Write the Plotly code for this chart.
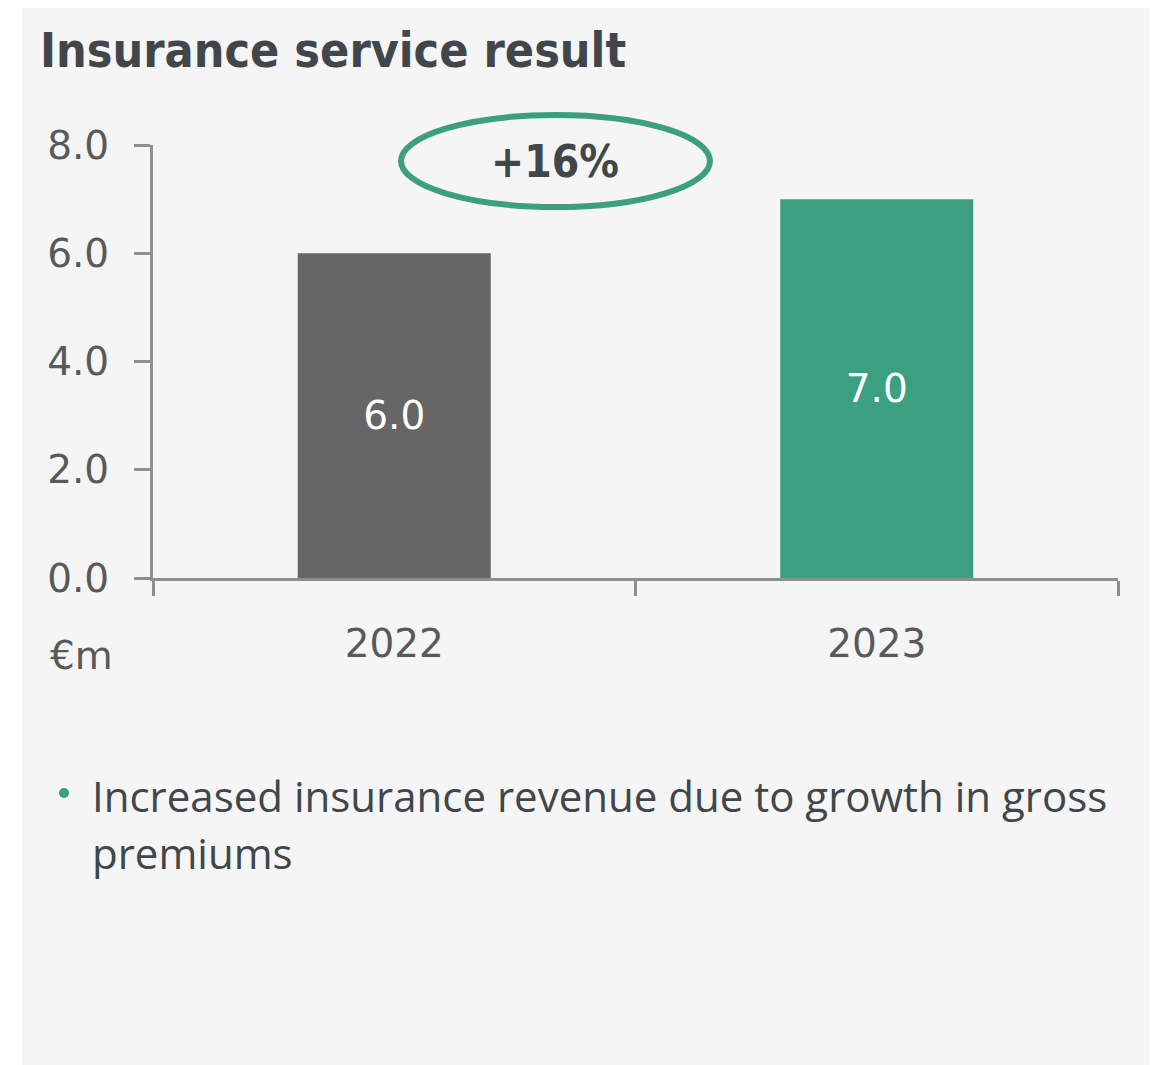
import plotly.graph_objects as go

# data
years = ["2022", "2023"]
values = [6.0, 7.0]
bar_colors = ["#666666", "#3c9f80"]
growth_label = "+16%"
title_text = "Insurance service result"
unit_label = "€m"
bullet_lines = ["Increased insurance revenue due to growth in gross", "premiums"]

# page body has an 8px default margin, so the figure is sized to fit the window
OFF = 8
W, H = 1158 - OFF, 1065 - OFF
L, R, T, B = 153 - OFF, 40, 145 - OFF, 487
PW, PH = W - L - R, H - T - B


def px_x(px):
    # screen px -> paper x
    return (px - OFF - L) / PW


def px_y(py):
    # screen px -> paper y
    return (H - B - (py - OFF)) / PH


green = "#3c9f80"
axis_col = "#8f8f8f"
text_col = "#595959"
dark = "#40464a"
tick_font = dict(family="DejaVu Sans", size=39, color=text_col)

fig = go.Figure()
fig.add_trace(go.Bar(
    x=years,
    y=values,
    marker=dict(color=bar_colors, line=dict(width=0)),
    text=values,
    texttemplate="%{y:.1f}",
    textposition="inside",
    insidetextanchor="middle",
    textfont=dict(family="DejaVu Sans", size=39, color="white"),
    hoverinfo="skip",
))

shapes = [
    # panel background
    dict(type="rect", xref="paper", yref="paper",
         x0=px_x(22), x1=px_x(1170), y0=px_y(1080), y1=px_y(4),
         fillcolor="#f5f5f5", line=dict(width=0), layer="below"),
    # growth ellipse
    dict(type="circle", xref="paper", yref="paper",
         x0=px_x(401), x1=px_x(710), y0=px_y(207), y1=px_y(115),
         line=dict(color=green, width=6), layer="above"),
    # bullet dot
    dict(type="circle", xref="paper", yref="paper",
         x0=px_x(59), x1=px_x(69), y0=px_y(798), y1=px_y(788),
         fillcolor=green, line=dict(width=0)),
]

annotations = [
    dict(text="<b>" + title_text + "</b>", xref="paper", yref="paper",
         x=px_x(38), y=px_y(50), xanchor="left", yanchor="middle", showarrow=False,
         font=dict(family="DejaVu Sans Condensed, DejaVu Sans", size=48, color=dark)),
    dict(text="<b>" + growth_label + "</b>", xref="paper", yref="paper",
         x=px_x(555), y=px_y(161), xanchor="center", yanchor="middle", showarrow=False,
         font=dict(family="DejaVu Sans Condensed, DejaVu Sans", size=44, color=dark)),
    dict(text=unit_label, xref="paper", yref="paper",
         x=px_x(48), y=px_y(655), xanchor="left", yanchor="middle", showarrow=False,
         font=tick_font),
]
for i, line in enumerate(bullet_lines):
    annotations.append(dict(
        text=line, xref="paper", yref="paper",
        x=px_x(90), y=px_y(795 + 57 * i), xanchor="left", yanchor="middle", showarrow=False,
        font=dict(family="Open Sans", size=42, color=dark)))

fig.update_layout(
    width=W, height=H,
    margin=dict(l=L, r=R, t=T, b=B),
    paper_bgcolor="white",
    plot_bgcolor="rgba(0,0,0,0)",
    showlegend=False,
    bargap=0.6,
    shapes=shapes,
    annotations=annotations,
    xaxis=dict(
        type="category", range=[-0.5, 1.5],
        showline=True, linecolor=axis_col, linewidth=3,
        ticks="outside", tickson="boundaries", ticklen=15, tickwidth=3, tickcolor=axis_col,
        tickfont=tick_font, ticklabelstandoff=29,
        showgrid=False, zeroline=False,
    ),
    yaxis=dict(
        range=[0, 8], dtick=2, tickformat=".1f",
        showline=True, linecolor=axis_col, linewidth=3,
        ticks="outside", ticklen=16, tickwidth=3, tickcolor=axis_col,
        tickfont=tick_font, ticklabelstandoff=17,
        showgrid=False, zeroline=False,
    ),
)

fig.write_html("out.html")
